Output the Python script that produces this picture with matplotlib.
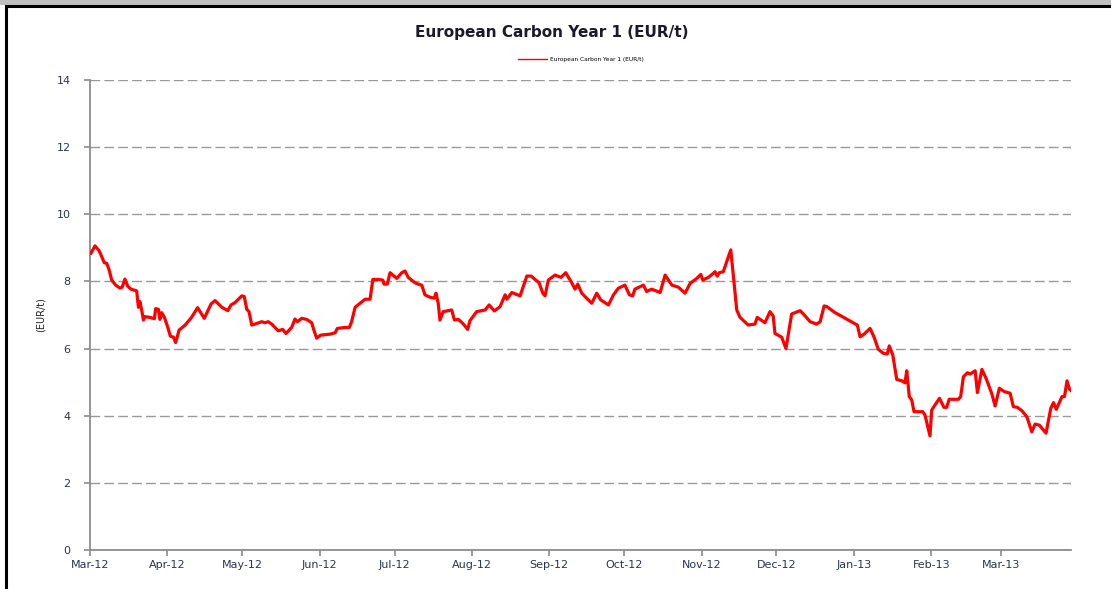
import numpy as np
import pandas as pd
import matplotlib
matplotlib.use("Agg")
import matplotlib.pyplot as plt
import matplotlib.dates as mdates
from matplotlib.patches import Rectangle
from matplotlib.lines import Line2D

# days since 2012-03-01 and price (EUR/t)
days = [
    0.4, 2.0, 3.6, 4.7, 5.7, 6.7, 7.6, 8.7, 10.3, 12.0, 12.9, 14.0, 15.1, 16.4,
    18.7, 19.4, 20.0, 20.7, 21.4, 22.0, 24.0, 25.8, 26.3, 27.4, 28.0, 28.7, 29.8,
    31.1, 32.2, 33.4, 34.3, 35.7, 38.1, 40.7, 43.1, 45.8, 48.5, 50.1, 52.8, 55.2,
    56.5, 58.1, 60.8, 61.8, 62.8, 63.7, 64.8, 66.1, 68.8, 70.1, 71.4, 72.8, 75.4,
    77.2, 78.5, 80.8, 82.1, 83.1, 84.8, 86.8, 88.8, 89.7, 90.8, 92.4, 96.2, 98.2,
    99.1, 102.2, 103.9, 104.8, 106.2, 108.2, 110.2, 112.2, 113.3, 115.5, 117.3,
    117.8, 119.1, 120.2, 121.3, 122.9, 124.9, 126.2, 127.5, 130.2, 131.5, 132.9,
    134.2, 136.2, 137.9, 138.6, 139.5, 140.2, 141.5, 144.9, 146.0, 147.6, 149.6,
    151.3, 152.2, 154.9, 158.3, 159.9, 162.0, 164.3, 166.3, 167.0, 169.0, 172.3,
    175.0, 176.7, 179.9, 181.4, 182.3, 183.6, 186.3, 188.7, 190.6, 193.0, 194.3,
    195.4, 197.0, 198.3, 201.0, 203.0, 204.6, 207.7, 209.7, 211.7, 214.3, 216.1,
    217.4, 218.3, 221.7, 223.0, 225.0, 228.4, 230.4, 233.1, 235.7, 238.4, 240.4,
    243.1, 244.7, 245.5, 247.7, 249.7, 250.4, 251.3, 252.1, 253.7, 256.7, 259.1,
    260.4, 263.7, 266.4, 267.3, 270.4, 272.4, 273.7, 274.4, 277.1, 278.8, 281.1,
    284.5, 286.5, 288.5, 291.1, 292.5, 294.1, 295.2, 298.5, 307.4, 308.5, 310.1,
    312.5, 314.1, 315.8, 317.8, 319.4, 320.2, 321.6, 323.2, 325.2, 326.5, 327.2,
    328.2, 329.2, 330.1, 331.5, 333.6, 334.5, 336.5, 337.2, 340.3, 342.1, 343.2,
    344.2, 347.9, 348.8, 349.9, 351.5, 352.6, 354.6, 355.5, 357.3, 359.0, 361.3,
    362.6, 364.3, 366.2, 368.6, 369.9, 371.5, 373.3, 375.3, 377.3, 378.6, 380.3,
    383.0, 384.9, 386.0, 387.1, 389.4, 390.4, 391.4, 392.4, 393.0,
]
prices = [
    8.84, 9.06, 8.92, 8.74, 8.56, 8.54, 8.36, 8.04, 7.89, 7.80, 7.83, 8.07, 7.86, 7.77,
    7.72, 7.23, 7.40, 7.15, 6.85, 6.95, 6.93, 6.89, 7.19, 7.17, 6.87, 7.07, 6.93,
    6.65, 6.37, 6.34, 6.18, 6.55, 6.70, 6.93, 7.22, 6.90, 7.33, 7.43, 7.23, 7.13,
    7.30, 7.37, 7.57, 7.55, 7.17, 7.10, 6.70, 6.73, 6.80, 6.77, 6.80, 6.73, 6.53,
    6.57, 6.45, 6.63, 6.88, 6.80, 6.90, 6.87, 6.77, 6.55, 6.31, 6.40, 6.43, 6.47,
    6.60, 6.63, 6.63, 6.80, 7.23, 7.35, 7.47, 7.47, 8.06, 8.06, 8.04,
    7.92, 7.92, 8.26, 8.19, 8.09, 8.26, 8.31, 8.12, 7.96, 7.92, 7.89,
    7.60, 7.53, 7.50, 7.65, 7.35, 6.85, 7.10, 7.15, 6.85, 6.87, 6.73,
    6.57, 6.83, 7.10, 7.15, 7.30, 7.12, 7.25, 7.60, 7.47, 7.67, 7.57,
    8.16, 8.16, 7.96, 7.65, 7.57, 8.04, 8.19, 8.12, 8.26, 7.96, 7.77,
    7.92, 7.65, 7.55, 7.35, 7.65, 7.45, 7.30, 7.60, 7.80, 7.89, 7.60,
    7.57, 7.77, 7.89, 7.70, 7.77, 7.67, 8.19, 7.89, 7.83, 7.65, 7.94,
    8.09, 8.21, 8.04, 8.12, 8.24, 8.29, 8.16, 8.26, 8.29, 8.94, 7.15,
    6.93, 6.70, 6.73, 6.93, 6.77, 7.10, 6.97, 6.45, 6.34, 6.00, 7.03,
    7.13, 6.97, 6.80, 6.73, 6.80, 7.27, 7.25, 7.07, 6.70, 6.35, 6.43,
    6.60, 6.34, 5.98, 5.86, 5.84, 6.08, 5.81, 5.08, 5.04, 4.98, 5.34,
    4.57, 4.47, 4.12, 4.12, 4.12, 4.02, 3.40, 4.17, 4.52, 4.25, 4.25,
    4.49, 4.49, 4.57, 5.16, 5.28, 5.24, 5.34, 4.69, 5.38, 5.11, 4.65,
    4.29, 4.82, 4.72, 4.67, 4.27, 4.25, 4.15, 3.97, 3.52, 3.75, 3.72,
    3.48, 4.22, 4.39, 4.19, 4.57, 4.57, 5.04, 4.79, 4.75,
]
start_date = "2012-03-01"
end_date = "2013-03-29"
y_ticks = [0, 2, 4, 6, 8, 10, 12, 14]
series_name = "European Carbon Year 1 (EUR/t)"

dates = pd.Timestamp(start_date) + pd.to_timedelta(days, unit="D")

fig = plt.figure(figsize=(11.11, 5.89), dpi=100)
fig.set_facecolor("white")

# frame around the chart like the screenshot
fig.patches.append(Rectangle((0, 1 - 5 / 589), 1, 5 / 589, transform=fig.transFigure,
                             facecolor="#c0c0c0", edgecolor="none", zorder=0))
fig.lines.append(Line2D([6 / 1111, 6 / 1111], [0, 1 - 6 / 589], transform=fig.transFigure,
                        color="black", linewidth=2.2))
fig.lines.append(Line2D([6 / 1111, 1], [1 - 6 / 589, 1 - 6 / 589], transform=fig.transFigure,
                        color="black", linewidth=2.2))

ax = fig.add_axes([90 / 1111, 1 - 550 / 589, (1071 - 90) / 1111, (550 - 80) / 589])

ax.plot(dates, prices, color="#ff0000", linewidth=2.3, solid_joinstyle="round",
        label=series_name, zorder=3)

ax.set_ylim(0, 14)
ax.set_yticks(y_ticks)
ax.set_xlim(pd.Timestamp(start_date), pd.Timestamp(end_date))
ax.xaxis.set_major_locator(mdates.MonthLocator())
ax.xaxis.set_major_formatter(mdates.DateFormatter("%b-%y"))

ax.grid(axis="y", color="#999999", linestyle=(0, (7, 3)), linewidth=1.0)
ax.set_axisbelow(True)

for side in ["top", "right"]:
    ax.spines[side].set_visible(False)
for side in ["left", "bottom"]:
    ax.spines[side].set_color("#8c8c8c")
    ax.spines[side].set_linewidth(1.3)

ax.tick_params(axis="both", colors="#8c8c8c", length=4, width=1.2, labelsize=8)
for lbl in ax.get_xticklabels() + ax.get_yticklabels():
    lbl.set_color("#2a3550")
ax.tick_params(axis="y", pad=10)
ax.tick_params(axis="x", pad=3)

ax.set_ylabel("(EUR/t)", fontsize=7, color="#222222", labelpad=8)

fig.text(552 / 1111, 1 - 33 / 589, series_name, ha="center", va="center",
         fontsize=11, fontweight="bold", color="#1a1a2a")

leg = ax.legend(loc="center", bbox_to_anchor=(0.5, 1 + 21 / 470), frameon=False,
                fontsize=4.2, handlelength=5, handletextpad=0.5)
for h in leg.get_lines():
    h.set_linewidth(1.0)

plt.savefig("out.png", dpi=100)
plt.close()
